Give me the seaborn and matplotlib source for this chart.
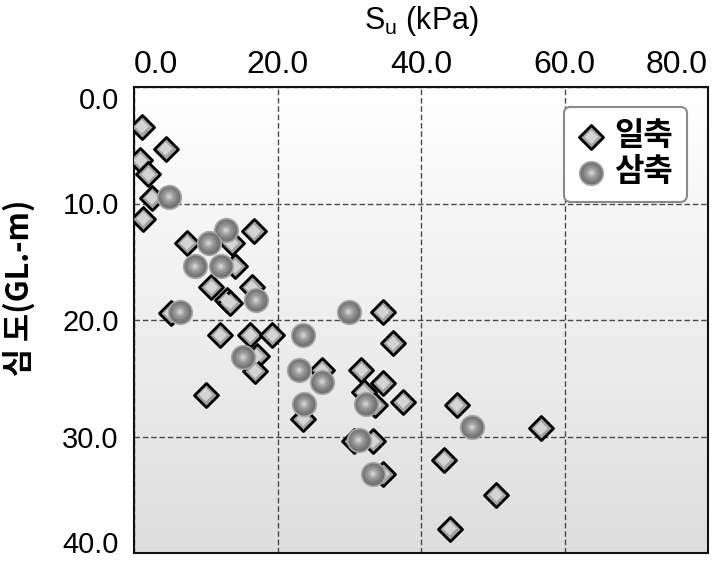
import numpy as np
import pandas as pd
import matplotlib
matplotlib.use("Agg")
import matplotlib.pyplot as plt
import seaborn as sns
from matplotlib.colors import LinearSegmentedColormap

# 일축 (unconfined) : Su (kPa), depth (GL.-m)
uc_su = [1.1, 4.4, 0.9, 2.0, 2.5, 1.3, 7.4, 16.7, 13.6, 14.1, 10.8, 16.4, 12.9,
         13.4, 5.1, 34.7, 12.0, 16.2, 19.3, 17.1, 16.9, 10.0, 26.2, 23.6, 36.1,
         31.7, 34.7, 37.5, 33.6, 32.0, 30.6, 33.3, 34.7, 45.0, 56.7, 43.2, 50.5, 44.0]
uc_depth = [3.4, 5.3, 6.3, 7.5, 9.5, 11.3, 13.4, 12.4, 13.4, 15.4, 17.2, 17.2, 18.3,
            18.5, 19.4, 19.3, 21.3, 21.3, 21.3, 23.1, 24.4, 26.4, 24.3, 28.5, 22.0,
            24.3, 25.4, 27.0, 27.3, 26.2, 30.4, 30.4, 33.2, 27.3, 29.3, 32.0, 35.0, 37.9]

# 삼축 (triaxial)
tx_su = [4.9, 12.8, 10.4, 8.5, 12.1, 17.0, 6.4, 29.9, 23.6, 15.2, 23.0, 26.2,
         23.7, 32.3, 31.3, 33.3, 47.1]
tx_depth = [9.4, 12.3, 13.4, 15.4, 15.4, 18.3, 19.3, 19.3, 21.3, 23.2, 24.3, 25.3,
            27.2, 27.2, 30.3, 33.2, 29.2]

x_ticks = [0, 20, 40, 60, 80]
y_ticks = [0, 10, 20, 30, 40]

uc = pd.DataFrame({"Su": uc_su, "depth": uc_depth})
tx = pd.DataFrame({"Su": tx_su, "depth": tx_depth})

sns.set_style("white")
plt.rcParams["font.family"] = ["Liberation Sans", "Noto Sans CJK KR", "DejaVu Sans"]
plt.rcParams.update({"text.color": "black", "axes.labelcolor": "black",
                     "xtick.color": "black", "ytick.color": "black"})

fig = plt.figure(figsize=(7.21, 5.62), dpi=100)
ax = fig.add_axes([134 / 721, 1 - 553 / 562, 574 / 721, 466 / 562])

# soft white -> grey background
bg = LinearSegmentedColormap.from_list("bg", ["#ffffff", "#dedede"])
ax.imshow(np.linspace(0, 1, 256).reshape(-1, 1), extent=(0, 80, 40, 0),
          aspect="auto", cmap=bg, zorder=0)

# diamonds (outline + lighter core for the shaded look)
sns.scatterplot(data=uc, x="Su", y="depth", marker="D", s=150, color="#a2a2a2",
                edgecolor="black", linewidth=2, ax=ax, zorder=3, label="일축")
d_base = ax.collections[-1]
sns.scatterplot(data=uc, x="Su", y="depth", marker="D", s=50, color="#d4d4d4",
                edgecolor="none", ax=ax, zorder=3, legend=False)
d_hi = ax.collections[-1]

# spheres, layered to fake the radial shading
sphere_layers = [(290, "#727272"), (190, "#7e7e7e"), (110, "#929292"), (45, "#acacac"), (12, "#cccccc")]
c_handles = []
for i, (sz, col) in enumerate(sphere_layers):
    sns.scatterplot(data=tx, x="Su", y="depth", marker="o", s=sz, color=col,
                    edgecolor="#a8a8a8" if i == 0 else "none", linewidth=1.2,
                    ax=ax, zorder=4, label="삼축" if i == 0 else None, legend=False)
    c_handles.append(ax.collections[-1])

ax.set_xlim(0, 80)
ax.set_ylim(40, 0)
ax.xaxis.tick_top()
ax.xaxis.set_label_position("top")
ax.set_xticks(x_ticks, [f"{v:.1f}" for v in x_ticks])
ax.set_yticks(y_ticks, [f"{v:.1f}" for v in y_ticks])
ax.tick_params(axis="x", length=0, pad=5, labelsize=23)
ax.tick_params(axis="y", length=0, pad=11, labelsize=21)
xl = ax.get_xticklabels()
xl[0].set_ha("left")
xl[-1].set_ha("right")
yl = ax.get_yticklabels()
yl[0].set_va("top")
yl[-1].set_va("baseline")

ax.grid(True, linestyle=(0, (4, 2)), color="#4a4a4a", linewidth=1)
ax.set_axisbelow(True)
for sp in ax.spines.values():
    sp.set_color("#111111")
    sp.set_linewidth(1.5)

ax.set_xlabel("S$_\\mathregular{u}$ (kPa)", fontsize=22)
ax.xaxis.set_label_coords(0.5, 1.142)
ax.xaxis.label.set_va("center")
ax.set_ylabel("심 도(GL.-m)", fontsize=22, fontweight="bold",
              family=["Noto Sans CJK KR", "DejaVu Sans"])
ax.yaxis.set_label_coords(-0.199, 0.57)
ax.yaxis.label.set_va("center")

leg = ax.legend(handles=[(d_base, d_hi), tuple(c_handles)], labels=["일축", "삼축"],
                loc="upper right", bbox_to_anchor=(0.963, 0.957), borderaxespad=0,
                prop={"family": ["Noto Sans CJK KR"], "weight": "bold", "size": 23},
                handlelength=0.85, handletextpad=0.3, labelspacing=0.12,
                borderpad=0.42, fancybox=True, framealpha=1, edgecolor="#8a8a8a")
leg.get_frame().set_linewidth(1.5)
leg.set_zorder(6)

fig.savefig("out.png", dpi=100)
